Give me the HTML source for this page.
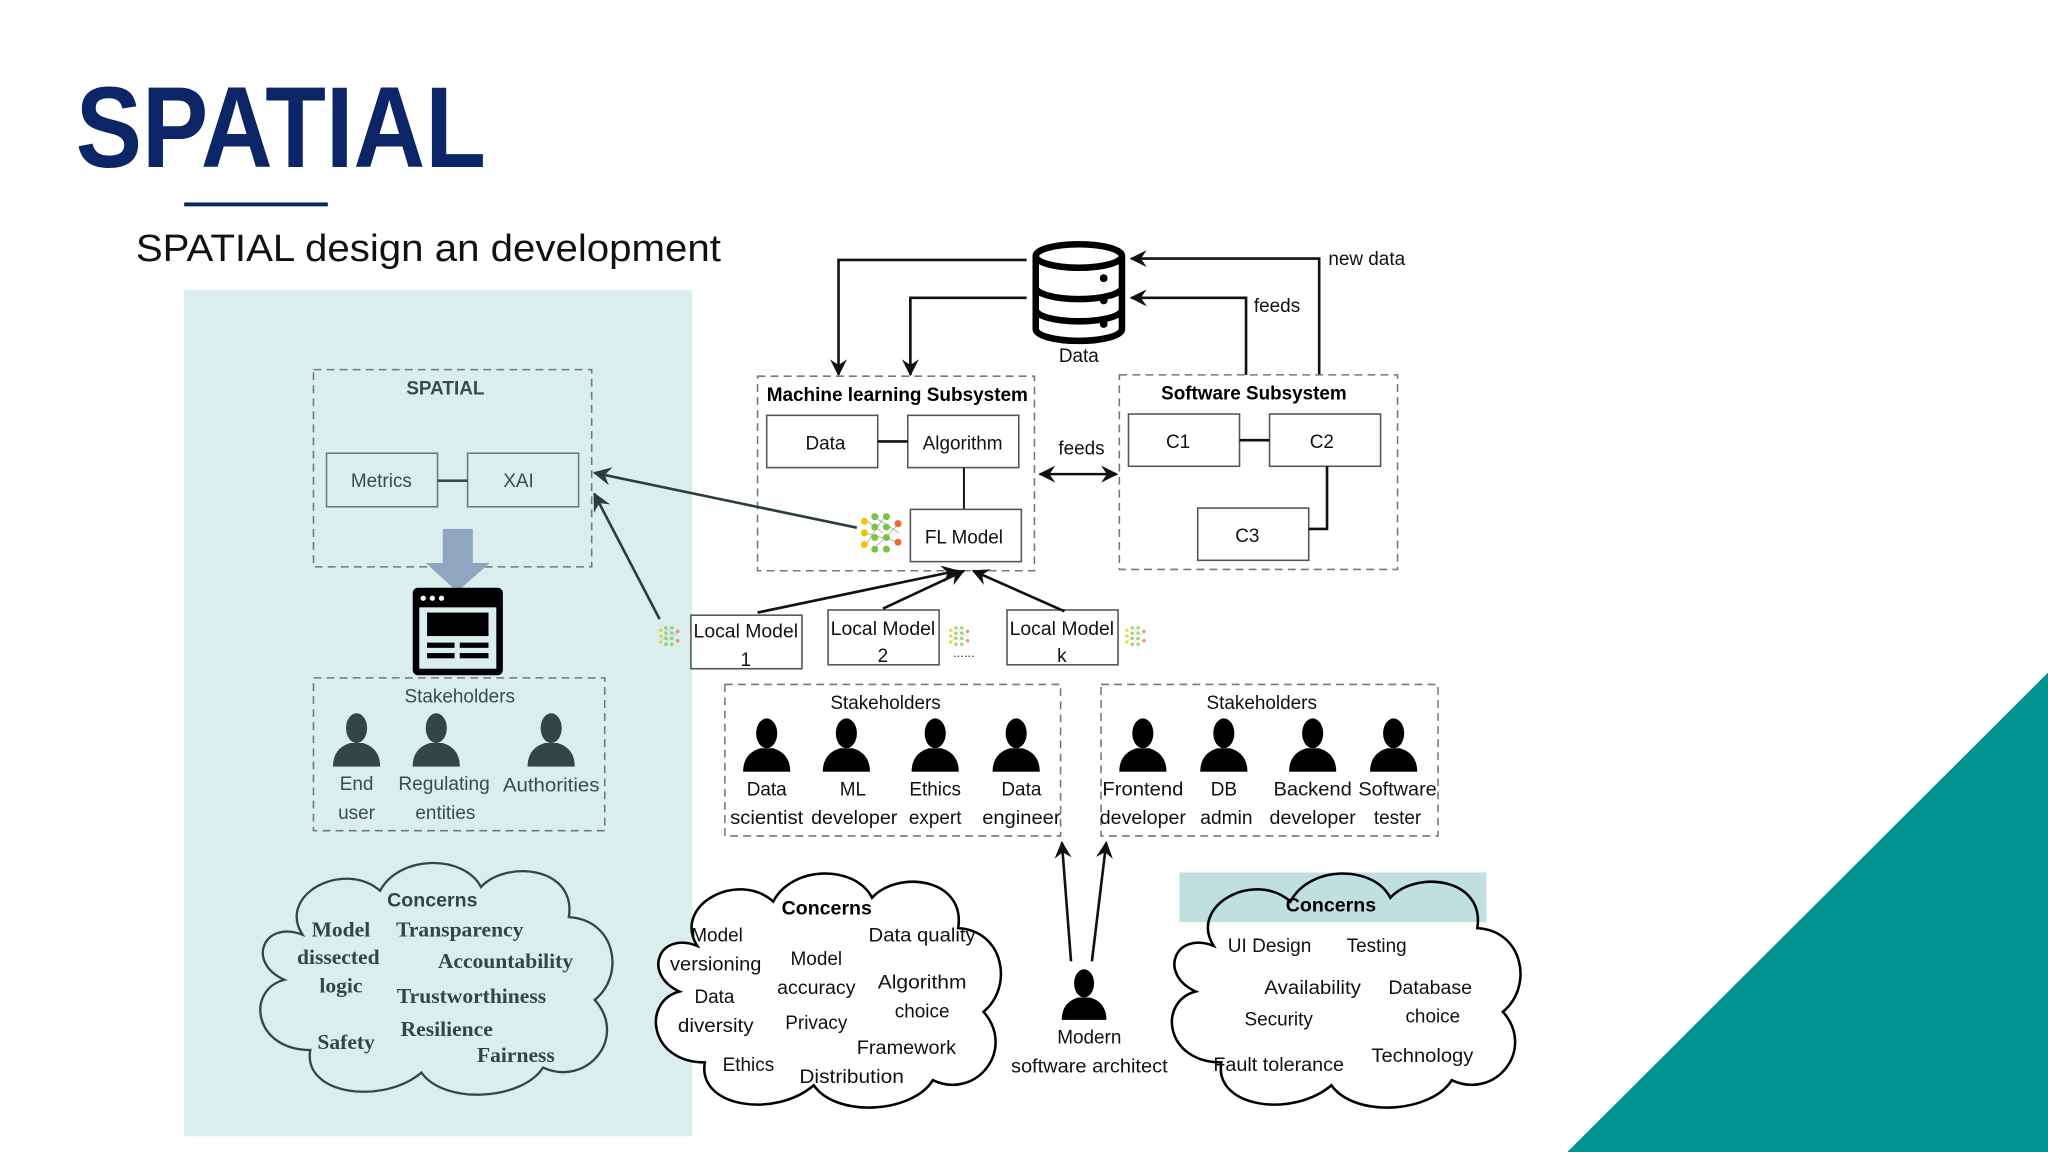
<!DOCTYPE html>
<html><head><meta charset="utf-8"><style>
html,body{margin:0;padding:0;background:#fff;}
svg{display:block;}
text{font-family:"Liberation Sans Narrow","Liberation Sans",sans-serif;}
.t{font-size:14.5px;fill:#111;text-anchor:middle;}
.g{font-size:14.5px;fill:#3b4a4a;text-anchor:middle;}
.b{font-size:15px;font-weight:bold;fill:#000;text-anchor:middle;}
.s{font-family:"Liberation Serif",serif;font-weight:bold;font-size:16.5px;fill:#354545;text-anchor:middle;}
.box{fill:#fff;stroke:#555;stroke-width:1.2;}
.gbox{fill:none;stroke:#6a7a7a;stroke-width:1.2;}
.dash{fill:none;stroke:#777;stroke-width:1.2;stroke-dasharray:6,4;}
.ln{stroke:#111;stroke-width:2;fill:none;}
</style></head><body>
<svg width="2048" height="1152" viewBox="0 0 1568 882" xmlns="http://www.w3.org/2000/svg">
<defs>
<marker id="ah" viewBox="0 0 12 12" refX="11" refY="6" markerWidth="13" markerHeight="13" orient="auto" markerUnits="userSpaceOnUse">
<path d="M0,0 L12,6 L0,12 L4,6 Z" fill="#111"/></marker>
<marker id="ah2" viewBox="0 0 12 12" refX="11" refY="6" markerWidth="14" markerHeight="14" orient="auto" markerUnits="userSpaceOnUse">
<path d="M0,0 L12,6 L0,12 L4,6 Z" fill="#2d3d3d"/></marker>
<marker id="ahs" viewBox="0 0 12 12" refX="1" refY="6" markerWidth="13" markerHeight="13" orient="auto" markerUnits="userSpaceOnUse">
<path d="M12,0 L0,6 L12,12 L8,6 Z" fill="#111"/></marker>
<symbol id="p" viewBox="0 0 40 44"><ellipse cx="20" cy="13" rx="8.5" ry="12"/><path d="M1,44 C1,32 8,27 15,25 L25,25 C32,27 39,32 39,44 Z"/></symbol>
<symbol id="nn" viewBox="0 0 40 36">
<g stroke="#999" stroke-width="0.6"><line x1="4" y1="6" x2="20" y2="18"/><line x1="4" y1="30" x2="20" y2="6"/><line x1="12" y1="4" x2="34" y2="18"/><line x1="12" y1="32" x2="34" y2="10"/><line x1="4" y1="18" x2="34" y2="26"/></g>
<g fill="#f2c400"><circle cx="4" cy="8" r="3"/><circle cx="4" cy="18" r="3"/><circle cx="4" cy="28" r="3"/></g>
<g fill="#7cc242"><circle cx="13" cy="4" r="3"/><circle cx="13" cy="13" r="3"/><circle cx="13" cy="22" r="3"/><circle cx="13" cy="32" r="3"/><circle cx="23" cy="4" r="3"/><circle cx="23" cy="13" r="3"/><circle cx="23" cy="22" r="3"/><circle cx="23" cy="32" r="3"/></g>
<g fill="#ee6a2a"><circle cx="33" cy="10" r="3"/><circle cx="33" cy="26" r="3"/></g>
</symbol>
<path id="cloud" d="M40,60 C20,28 72,0 100,25 C115,-4 165,-4 178,22 C198,0 252,6 246,46 C282,48 290,92 266,112 C292,142 260,182 226,166 C210,192 150,196 132,170 C102,196 40,188 46,152 C2,152 -4,104 26,96 C-4,82 10,48 40,60 Z"/>
</defs>

<rect x="141" y="222" width="389" height="648" fill="#daeeed"/>
<polygon points="1200,882 1568,515 1568,882" fill="#009490"/>

<text x="58" y="128" font-size="88" font-weight="bold" fill="#0b2566" textLength="314" lengthAdjust="spacingAndGlyphs" style="font-family:'Liberation Sans',sans-serif">SPATIAL</text>
<rect x="141" y="155" width="110" height="3" fill="#0b2566"/>
<text x="104" y="200" font-size="29" fill="#111" textLength="448" lengthAdjust="spacingAndGlyphs" style="font-family:'Liberation Sans',sans-serif">SPATIAL design an development</text>

<rect x="240" y="283" width="213" height="151" class="dash"/>
<text x="341" y="302" class="g" font-weight="bold" font-size="14">SPATIAL</text>
<rect x="250" y="347" width="85" height="41" class="gbox"/>
<rect x="358" y="347" width="85" height="41" class="gbox"/>
<line x1="335" y1="368" x2="358" y2="368" stroke="#3b4a4a" stroke-width="2"/>
<text x="292" y="373" class="g">Metrics</text>
<text x="397" y="373" class="g">XAI</text>
<rect x="339" y="405" width="23" height="27" fill="#8fa6c0"/>
<polygon points="326,431 375,431 350,453" fill="#8fa6c0"/>
<rect x="316" y="450" width="69" height="67" rx="4" fill="#000"/>
<rect x="321" y="465" width="59" height="47" fill="#daeeed"/>
<circle cx="324" cy="458" r="2" fill="#fff"/><circle cx="331" cy="458" r="2" fill="#fff"/><circle cx="338" cy="458" r="2" fill="#fff"/>
<rect x="327" y="469" width="47" height="18" fill="#000"/>
<rect x="327" y="492" width="21" height="4" fill="#000"/><rect x="352" y="492" width="22" height="4" fill="#000"/>
<rect x="327" y="500" width="21" height="4" fill="#000"/><rect x="352" y="500" width="22" height="4" fill="#000"/>

<rect x="240" y="519" width="223" height="117" class="dash"/>
<text x="352" y="538" class="g">Stakeholders</text>
<g fill="#354545"><use href="#p" x="254" y="545" width="38" height="42"/><use href="#p" x="315" y="545" width="38" height="42"/><use href="#p" x="403" y="545" width="38" height="42"/></g>
<text x="273" y="605" class="g">End</text><text x="273" y="627" class="g">user</text>
<text x="340" y="605" class="g" textLength="70" lengthAdjust="spacingAndGlyphs">Regulating</text><text x="341" y="627" class="g">entities</text>
<text x="422" y="606" class="g" textLength="74" lengthAdjust="spacingAndGlyphs">Authorities</text>

<use href="#cloud" transform="translate(192,658) scale(0.99,0.96)" fill="none" stroke="#354545" stroke-width="1.8"/>
<text x="331" y="694" class="b" style="fill:#354545">Concerns</text>
<text x="261" y="717" class="s">Model</text>
<text x="352" y="717" class="s">Transparency</text>
<text x="259" y="738" class="s">dissected</text>
<text x="387" y="741" class="s">Accountability</text>
<text x="261" y="760" class="s">logic</text>
<text x="361" y="768" class="s">Trustworthiness</text>
<text x="342" y="793" class="s">Resilience</text>
<text x="265" y="803" class="s">Safety</text>
<text x="395" y="813" class="s">Fairness</text>

<g fill="none" stroke="#000" stroke-width="5">
<ellipse cx="826" cy="196" rx="33" ry="9"/>
<path d="M793,196 V252 A33,9 0 0 0 859,252 V196"/>
<path d="M793,220 A33,9 0 0 0 859,220"/>
<path d="M793,237 A33,9 0 0 0 859,237"/>
</g>
<circle cx="845" cy="213" r="3" fill="#000"/><circle cx="845" cy="230" r="3" fill="#000"/><circle cx="845" cy="248" r="3" fill="#000"/>
<text x="826" y="277" class="t">Data</text>

<path d="M786,199 H642 V287" class="ln" marker-end="url(#ah)"/>
<path d="M786,228 H697 V287" class="ln" marker-end="url(#ah)"/>
<path d="M1010,287 V198 H866" class="ln" marker-end="url(#ah)"/>
<path d="M954,287 V228 H866" class="ln" marker-end="url(#ah)"/>
<text x="1017" y="203" class="t" style="text-anchor:start">new data</text>
<text x="960" y="239" class="t" style="text-anchor:start">feeds</text>

<rect x="580" y="288" width="212" height="149" class="dash"/>
<text x="687" y="307" class="b" textLength="200" lengthAdjust="spacingAndGlyphs">Machine learning Subsystem</text>
<rect x="587" y="318" width="85" height="40" class="box"/>
<rect x="695" y="318" width="85" height="40" class="box"/>
<line x1="672" y1="338" x2="695" y2="338" class="ln"/>
<text x="632" y="344" class="t">Data</text>
<text x="737" y="344" class="t">Algorithm</text>
<line x1="738" y1="358" x2="738" y2="390" stroke="#111" stroke-width="1.5"/>
<rect x="697" y="390" width="85" height="40" class="box"/>
<text x="738" y="416" class="t">FL Model</text>
<use href="#nn" x="658" y="392" width="36" height="32"/>

<rect x="857" y="287" width="213" height="149" class="dash"/>
<text x="960" y="306" class="b" textLength="142" lengthAdjust="spacingAndGlyphs">Software Subsystem</text>
<rect x="864" y="317" width="85" height="40" class="box"/>
<rect x="972" y="317" width="85" height="40" class="box"/>
<rect x="917" y="389" width="85" height="40" class="box"/>
<line x1="949" y1="337" x2="972" y2="337" class="ln"/>
<path d="M1016,357 V405 H1002" class="ln"/>
<text x="902" y="343" class="t">C1</text><text x="1012" y="343" class="t">C2</text><text x="955" y="415" class="t">C3</text>

<text x="828" y="348" class="t">feeds</text>
<line x1="796" y1="363" x2="855" y2="363" class="ln" marker-end="url(#ah)" marker-start="url(#ahs)"/>

<line x1="656" y1="404" x2="455" y2="362" stroke="#2d3d3d" stroke-width="2" marker-end="url(#ah2)"/>
<line x1="505" y1="474" x2="455" y2="378" stroke="#2d3d3d" stroke-width="2" marker-end="url(#ah2)"/>

<rect x="529" y="471" width="85" height="41" class="box"/>
<text x="571" y="488" class="t" textLength="80" lengthAdjust="spacingAndGlyphs">Local Model</text><text x="571" y="510" class="t">1</text>
<rect x="634" y="467" width="85" height="42" class="box"/>
<text x="676" y="486" class="t" textLength="80" lengthAdjust="spacingAndGlyphs">Local Model</text><text x="676" y="507" class="t">2</text>
<rect x="771" y="467" width="85" height="42" class="box"/>
<text x="813" y="486" class="t" textLength="80" lengthAdjust="spacingAndGlyphs">Local Model</text><text x="813" y="507" class="t">k</text>
<use href="#nn" x="504" y="477" width="18" height="20" opacity="0.7"/>
<use href="#nn" x="726" y="477" width="18" height="20" opacity="0.7"/>
<use href="#nn" x="861" y="477" width="18" height="20" opacity="0.7"/>
<text x="738" y="503" font-size="10" fill="#333" text-anchor="middle">......</text>
<line x1="580" y1="469" x2="733" y2="437" class="ln" marker-end="url(#ah)"/>
<line x1="676" y1="466" x2="738" y2="437" class="ln" marker-end="url(#ah)"/>
<line x1="815" y1="468" x2="745" y2="437" class="ln" marker-end="url(#ah)"/>

<rect x="555" y="524" width="257" height="116" class="dash"/>
<text x="678" y="543" class="t">Stakeholders</text>
<g fill="#000"><use href="#p" x="568" y="549" width="38" height="42"/><use href="#p" x="629" y="549" width="38" height="42"/><use href="#p" x="697" y="549" width="38" height="42"/><use href="#p" x="759" y="549" width="38" height="42"/></g>
<text x="587" y="609" class="t">Data</text><text x="587" y="631" class="t" textLength="56" lengthAdjust="spacingAndGlyphs">scientist</text>
<text x="653" y="609" class="t">ML</text><text x="654" y="631" class="t" textLength="66" lengthAdjust="spacingAndGlyphs">developer</text>
<text x="716" y="609" class="t">Ethics</text><text x="716" y="631" class="t">expert</text>
<text x="782" y="609" class="t">Data</text><text x="782" y="631" class="t" textLength="60" lengthAdjust="spacingAndGlyphs">engineer</text>

<rect x="843" y="524" width="258" height="116" class="dash"/>
<text x="966" y="543" class="t">Stakeholders</text>
<g fill="#000"><use href="#p" x="856" y="549" width="38" height="42"/><use href="#p" x="918" y="549" width="38" height="42"/><use href="#p" x="986" y="549" width="38" height="42"/><use href="#p" x="1048" y="549" width="38" height="42"/></g>
<text x="875" y="609" class="t" textLength="62" lengthAdjust="spacingAndGlyphs">Frontend</text><text x="875" y="631" class="t" textLength="66" lengthAdjust="spacingAndGlyphs">developer</text>
<text x="937" y="609" class="t">DB</text><text x="939" y="631" class="t" textLength="40" lengthAdjust="spacingAndGlyphs">admin</text>
<text x="1005" y="609" class="t" textLength="60" lengthAdjust="spacingAndGlyphs">Backend</text><text x="1005" y="631" class="t" textLength="66" lengthAdjust="spacingAndGlyphs">developer</text>
<text x="1070" y="609" class="t" textLength="60" lengthAdjust="spacingAndGlyphs">Software</text><text x="1070" y="631" class="t">tester</text>

<line x1="820" y1="736" x2="813" y2="645" class="ln" marker-end="url(#ah)"/>
<line x1="836" y1="736" x2="847" y2="645" class="ln" marker-end="url(#ah)"/>
<use href="#p" x="812" y="740" width="36" height="42" fill="#000"/>
<text x="834" y="799" class="t">Modern</text>
<text x="834" y="821" class="t" textLength="120" lengthAdjust="spacingAndGlyphs">software architect</text>

<use href="#cloud" transform="translate(495,666) scale(0.97,0.97)" fill="#fff" stroke="#000" stroke-width="2"/>
<text x="633" y="700" class="b">Concerns</text>
<text x="549" y="721" class="t">Model</text><text x="548" y="743" class="t" textLength="70" lengthAdjust="spacingAndGlyphs">versioning</text>
<text x="625" y="739" class="t">Model</text><text x="625" y="761" class="t" textLength="60" lengthAdjust="spacingAndGlyphs">accuracy</text>
<text x="706" y="721" class="t" textLength="82" lengthAdjust="spacingAndGlyphs">Data quality</text>
<text x="706" y="757" class="t" textLength="68" lengthAdjust="spacingAndGlyphs">Algorithm</text><text x="706" y="779" class="t">choice</text>
<text x="547" y="768" class="t">Data</text><text x="548" y="790" class="t" textLength="58" lengthAdjust="spacingAndGlyphs">diversity</text>
<text x="625" y="788" class="t">Privacy</text>
<text x="694" y="807" class="t" textLength="76" lengthAdjust="spacingAndGlyphs">Framework</text>
<text x="573" y="820" class="t">Ethics</text>
<text x="652" y="829" class="t" textLength="80" lengthAdjust="spacingAndGlyphs">Distribution</text>

<use href="#cloud" transform="translate(890,666) scale(0.98,0.97)" fill="#fff" stroke="none"/>
<rect x="903" y="668" width="235" height="38" fill="#bfe0de"/>
<use href="#cloud" transform="translate(890,666) scale(0.98,0.97)" fill="none" stroke="#000" stroke-width="2"/>
<text x="1019" y="698" class="b">Concerns</text>
<text x="972" y="729" class="t" textLength="64" lengthAdjust="spacingAndGlyphs">UI Design</text><text x="1054" y="729" class="t">Testing</text>
<text x="1005" y="761" class="t" textLength="74" lengthAdjust="spacingAndGlyphs">Availability</text>
<text x="1095" y="761" class="t" textLength="64" lengthAdjust="spacingAndGlyphs">Database</text><text x="1097" y="783" class="t">choice</text>
<text x="979" y="785" class="t">Security</text>
<text x="979" y="820" class="t" textLength="100" lengthAdjust="spacingAndGlyphs">Fault tolerance</text>
<text x="1089" y="813" class="t" textLength="78" lengthAdjust="spacingAndGlyphs">Technology</text>
</svg>
</body></html>
